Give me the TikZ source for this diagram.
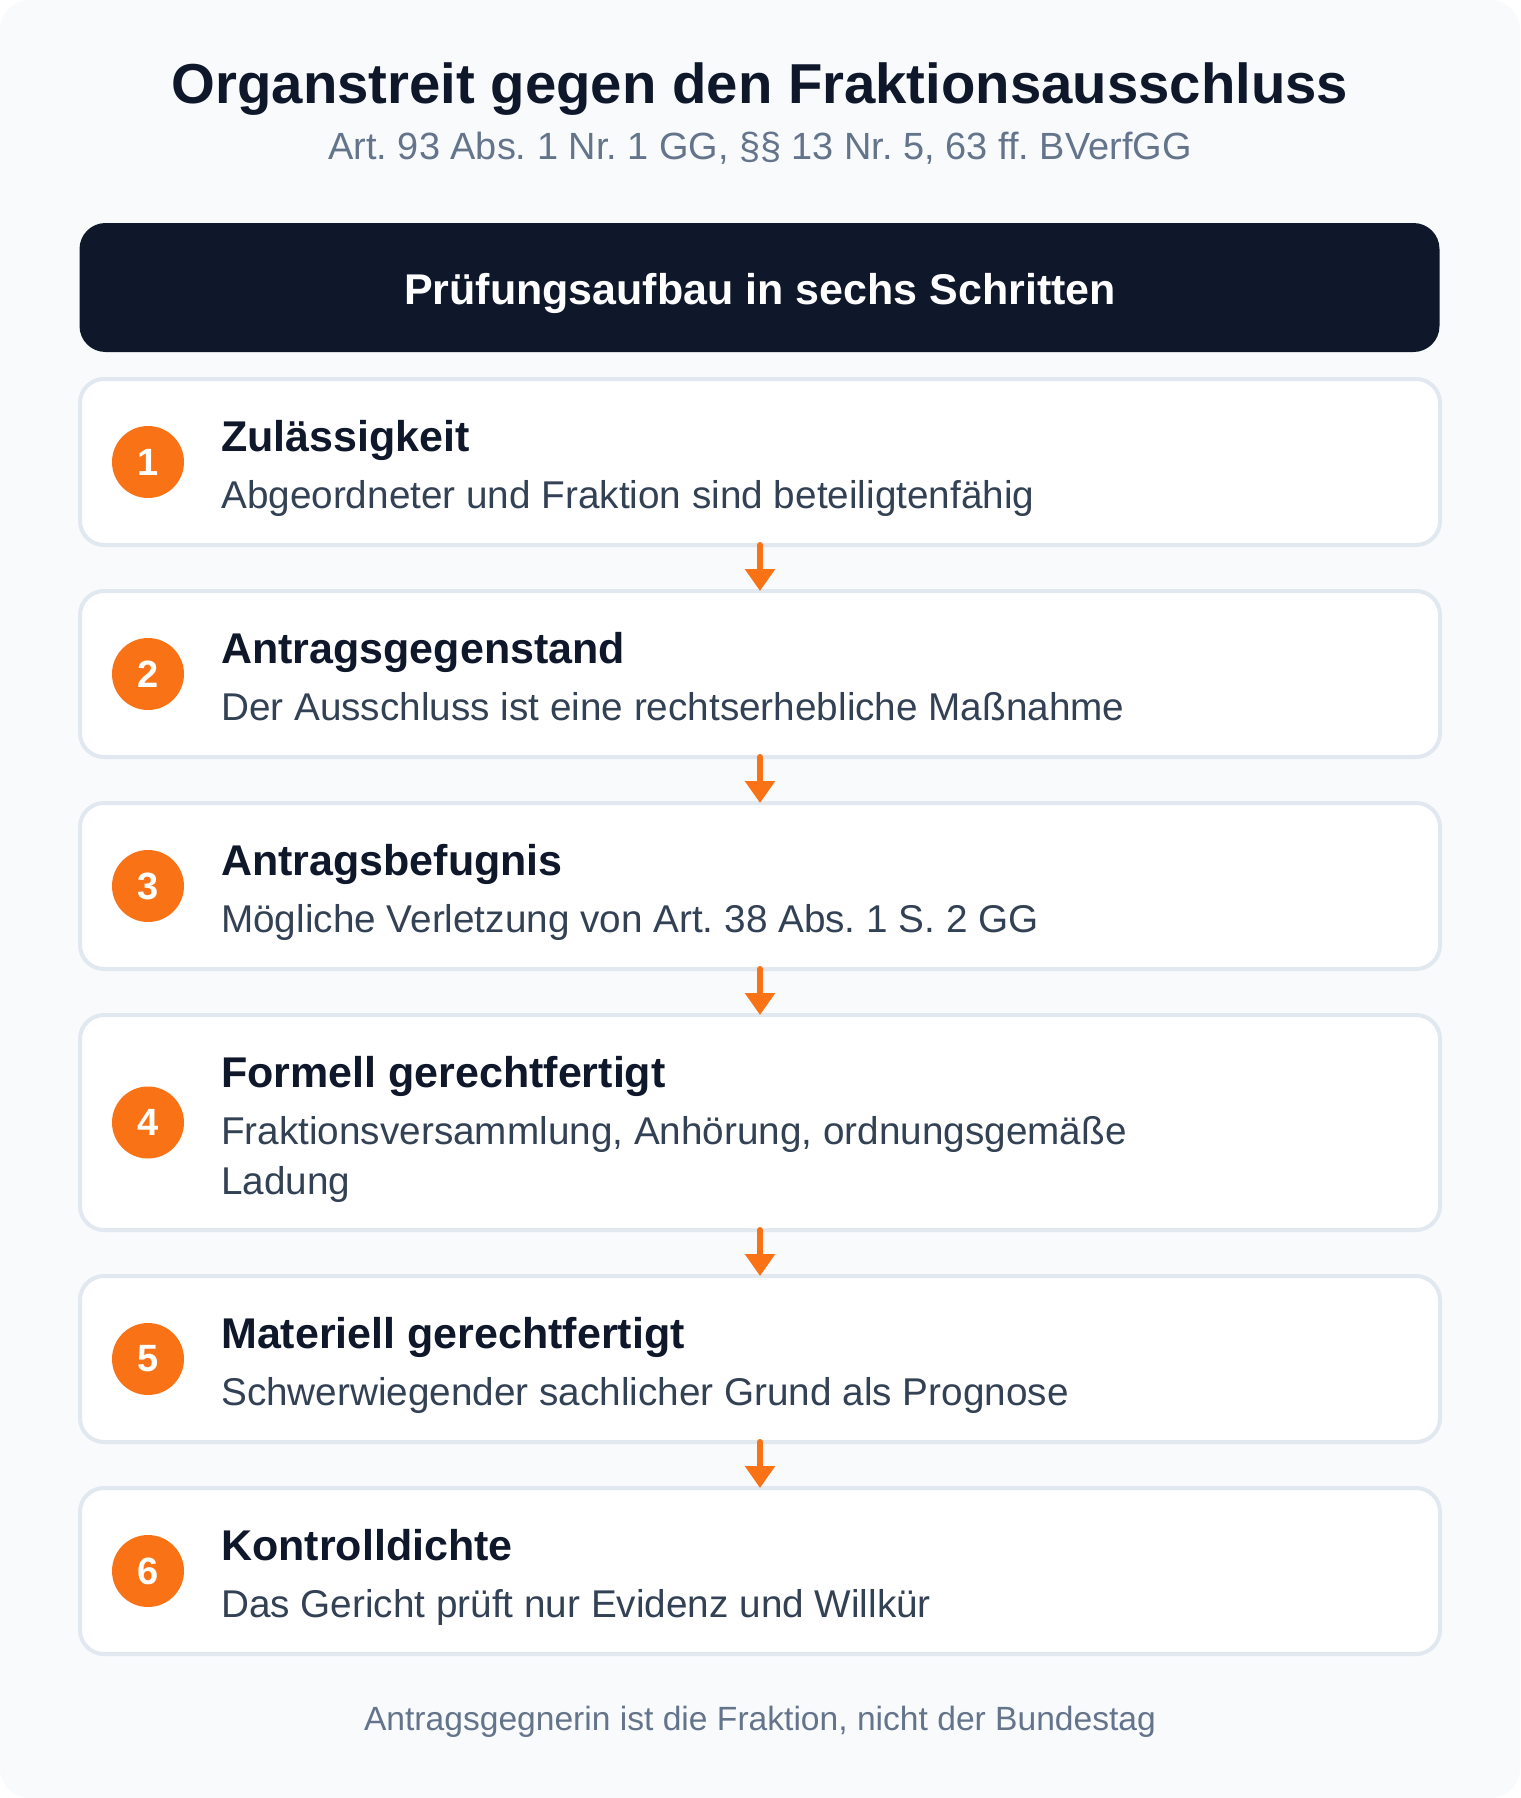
\documentclass[tikz,border=0pt]{standalone}
\usepackage{fontspec}
\setmainfont{Liberation Sans}
\usetikzlibrary{arrows.meta}
\definecolor{bg}{HTML}{F8FAFC}
\definecolor{navy}{HTML}{0F172A}
\definecolor{slate}{HTML}{64748B}
\definecolor{slatedk}{HTML}{334155}
\definecolor{bordr}{HTML}{E2E8F0}
\definecolor{orng}{HTML}{F97316}
\frenchspacing
\begin{document}
\begin{tikzpicture}[x=1pt,y=-1pt,
  stepbox/.style={draw=bordr, line width=4pt, fill=white, rounded corners=24pt,
    minimum width=1360pt, inner sep=0pt, outer sep=0pt},
  numcirc/.style={circle, fill=orng, minimum size=72pt, inner sep=0pt, text=white,
    font=\fontsize{38}{40}\selectfont\bfseries},
  steptitle/.style={anchor=base west, inner sep=0pt, text=navy,
    font=\fontsize{43}{48}\selectfont\bfseries},
  stepsub/.style={anchor=base west, inner sep=0pt, text=slatedk,
    font=\fontsize{38.7}{50}\selectfont},
  flowarrow/.style={draw=orng, line width=6pt, line cap=round,
    -{Triangle[width=29pt,length=22pt]}, fill=orng}
]
\fill[white] (0,0) rectangle (1520,1798);
\useasboundingbox (0,0) rectangle (1520,1798);
\fill[bg, rounded corners=30pt] (0,0) rectangle (1520,1798);

\node[anchor=base, inner sep=0pt, text=navy, font=\fontsize{56.3}{60}\selectfont\bfseries]
  (title) at (760,104) {Organstreit gegen den Fraktionsausschluss};
\node[anchor=base, inner sep=0pt, text=slate, font=\fontsize{37.9}{42}\selectfont]
  (subtitle) at (760,160) {Art. 93 Abs. 1 Nr. 1 GG, §§ 13 Nr. 5, 63 ff. BVerfGG};

\node[fill=navy, rounded corners=26pt, minimum width=1360pt, minimum height=129pt,
  inner sep=0pt] (head) at (759.5,287.5) {};
\node[anchor=base, inner sep=0pt, text=white, font=\fontsize{43}{48}\selectfont\bfseries]
  (headtext) at (760,304) {Prüfungsaufbau in sechs Schritten};

% step boxes
\node[stepbox, minimum height=166pt] (s1) at (760,462) {};
\node[stepbox, minimum height=166pt] (s2) at (760,674) {};
\node[stepbox, minimum height=166pt] (s3) at (760,886) {};
\node[stepbox, minimum height=215pt] (s4) at (760,1122.5) {};
\node[stepbox, minimum height=166pt] (s5) at (760,1359) {};
\node[stepbox, minimum height=166pt] (s6) at (760,1571) {};

% circles
\node[numcirc] (c1) at (148,462) {1};
\node[numcirc] (c2) at (148,674) {2};
\node[numcirc] (c3) at (148,886) {3};
\node[numcirc] (c4) at (148,1122.5) {4};
\node[numcirc] (c5) at (148,1359) {5};
\node[numcirc] (c6) at (148,1571) {6};

% texts
\node[steptitle] (t1) at (221,451) {Zulässigkeit};
\node[stepsub] (u1) at (221,508) {Abgeordneter und Fraktion sind beteiligtenfähig};
\node[steptitle] (t2) at (221,663) {Antragsgegenstand};
\node[stepsub] (u2) at (221,720) {Der Ausschluss ist eine rechtserhebliche Maßnahme};
\node[steptitle] (t3) at (221,875) {Antragsbefugnis};
\node[stepsub] (u3) at (221,932) {Mögliche Verletzung von Art. 38 Abs. 1 S. 2 GG};
\node[steptitle] (t4) at (221,1087) {Formell gerechtfertigt};
\node[stepsub] (u4) at (221,1144) {Fraktionsversammlung, Anhörung, ordnungsgemäße};
\node[stepsub] (u4b) at (221,1194) {Ladung};
\node[steptitle] (t5) at (221,1348) {Materiell gerechtfertigt};
\node[stepsub] (u5) at (221,1405) {Schwerwiegender sachlicher Grund als Prognose};
\node[steptitle] (t6) at (221,1560) {Kontrolldichte};
\node[stepsub] (u6) at (221,1617) {Das Gericht prüft nur Evidenz und Willkür};

% arrows
\draw[flowarrow] (s1.south) -- (s2.north);
\draw[flowarrow] (s2.south) -- (s3.north);
\draw[flowarrow] (s3.south) -- (s4.north);
\draw[flowarrow] (s4.south) -- (s5.north);
\draw[flowarrow] (s5.south) -- (s6.north);

\node[anchor=base, inner sep=0pt, text=slate, font=\fontsize{33.6}{38}\selectfont]
  (footer) at (760,1730) {Antragsgegnerin ist die Fraktion, nicht der Bundestag};
\end{tikzpicture}
\end{document}
